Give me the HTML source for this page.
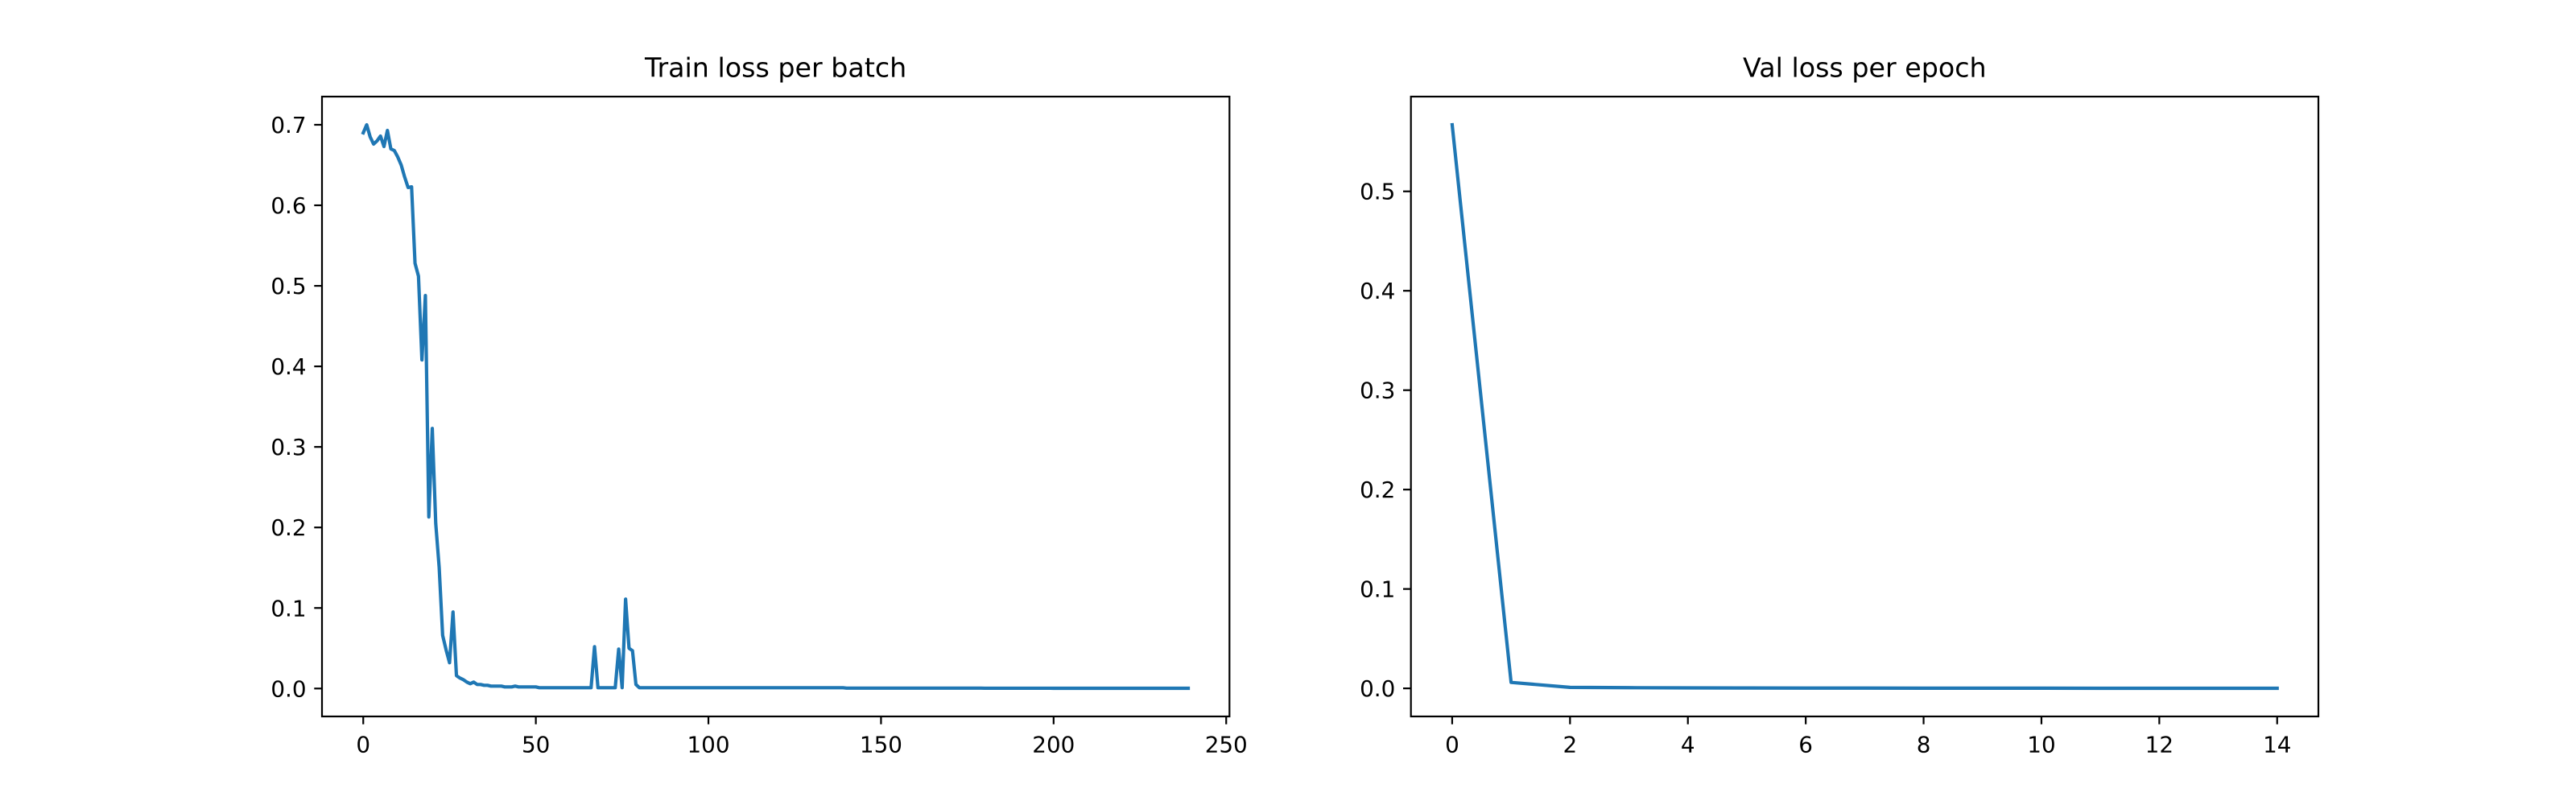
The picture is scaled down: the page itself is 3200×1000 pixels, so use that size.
<!DOCTYPE html>
<html><head><meta charset="utf-8"><style>
html,body{margin:0;padding:0;background:#fff;}
svg{display:block;}
text{font-family:"DejaVu Sans","Liberation Sans",sans-serif;fill:#000;}
</style></head><body>
<svg id="fig" width="3200" height="1000" viewBox="0 0 3200 1000" xmlns="http://www.w3.org/2000/svg"></svg>
<script>
const trainLoss = [
0.690,0.700,0.685,0.676,0.680,0.686,0.673,0.693,0.670,0.668,0.660,0.650,0.635,0.622,0.623,0.528,0.512,0.408,0.488,0.213,
0.323,0.205,0.150,0.066,0.048,0.032,0.095,0.016,0.013,0.011,0.008,0.006,0.008,0.005,0.005,0.004,0.004,0.003,0.003,0.003,
0.003,0.002,0.002,0.002,0.003,0.002,0.002,0.002,0.002,0.002,0.002,0.001,0.001,0.001,0.001,0.001,0.001,0.001,0.001,0.001,
0.001,0.001,0.001,0.001,0.001,0.001,0.001,0.052,0.001,0.001,0.001,0.001,0.001,0.001,0.049,0.001,0.111,0.050,0.047,0.005,
0.001,0.001,0.001,0.001,0.001,0.001,0.001,0.001,0.001,0.001,0.001,0.001,0.001,0.001,0.001,0.001,0.001,0.001,0.001,0.001,
0.001,0.001,0.001,0.001,0.001,0.001,0.001,0.001,0.001,0.001,0.001,0.001,0.001,0.001,0.001,0.001,0.001,0.001,0.001,0.001,
0.001,0.001,0.001,0.001,0.001,0.001,0.001,0.001,0.001,0.001,0.001,0.001,0.001,0.001,0.001,0.001,0.001,0.001,0.001,0.001,
0.0005,0.0005,0.0005,0.0005,0.0005,0.0005,0.0005,0.0005,0.0005,0.0005,0.0005,0.0005,0.0005,0.0005,0.0005,0.0005,0.0005,0.0005,0.0005,0.0005,
0.0005,0.0005,0.0005,0.0005,0.0005,0.0005,0.0005,0.0005,0.0005,0.0005,0.0005,0.0005,0.0005,0.0005,0.0005,0.0005,0.0005,0.0005,0.0005,0.0005,
0.0004,0.0004,0.0004,0.0004,0.0004,0.0004,0.0004,0.0004,0.0004,0.0004,0.0004,0.0004,0.0004,0.0004,0.0004,0.0004,0.0004,0.0004,0.0004,0.0004,
0.0003,0.0003,0.0003,0.0003,0.0003,0.0003,0.0003,0.0003,0.0003,0.0003,0.0003,0.0003,0.0003,0.0003,0.0003,0.0003,0.0003,0.0003,0.0003,0.0003,
0.0003,0.0003,0.0003,0.0003,0.0003,0.0003,0.0003,0.0003,0.0003,0.0003,0.0003,0.0003,0.0003,0.0003,0.0003,0.0003,0.0003,0.0003,0.0003,0.0003
];
const valLoss = [0.567,0.006,0.001,0.0007,0.0005,0.0004,0.0003,0.0003,0.0002,0.0002,0.0002,0.0001,0.0001,0.0001,0.0001];
const trainXTicks = [0,50,100,150,200,250];
const trainYTicks = [0.0,0.1,0.2,0.3,0.4,0.5,0.6,0.7];
const valXTicks = [0,2,4,6,8,10,12,14];
const valYTicks = [0.0,0.1,0.2,0.3,0.4,0.5];

const NS = "http://www.w3.org/2000/svg";
const svg = document.getElementById('fig');
function mk(tag, attrs, parent){
  const e = document.createElementNS(NS, tag);
  for (const k in attrs) e.setAttribute(k, attrs[k]);
  (parent||svg).appendChild(e);
  return e;
}
function lim(arr){
  let mn = Math.min(...arr), mx = Math.max(...arr);
  const m = (mx-mn)*0.05; return [mn-m, mx+m];
}
function drawPanel(name, title, ys, xt, yt, left, right, yfmt, xfmt){
  const top = 120, bottom = 890;
  const g = mk('g', {});
  
  
  const xs = ys.map((_, i) => i);
  const [x0, x1] = lim(xs), [y0, y1] = lim(ys);
  const X = v => left + (v - x0) / (x1 - x0) * (right - left);
  const Y = v => bottom - (v - y0) / (y1 - y0) * (bottom - top);
  const d = ys.map((v, i) => (i ? 'L' : 'M') + X(i).toFixed(2) + ' ' + Y(v).toFixed(2)).join(' ');
  const p = mk('path', {d: d, fill: 'none', stroke: '#1f77b4', 'stroke-width': 4.17, 'stroke-linejoin': 'round', 'stroke-linecap': 'square'}, g);
  
  
  const r = mk('rect', {x: left, y: top, width: right - left, height: bottom - top, fill: 'none', stroke: '#000', 'stroke-width': 2.2}, g);
  
  
  xt.forEach(t => {
    const x = X(t);
    mk('line', {x1: x, x2: x, y1: bottom, y2: bottom + 9.7, stroke: '#000', 'stroke-width': 2.2}, g);
    const tx = mk('text', {x: x, y: bottom + 19.4 + 25, 'text-anchor': 'middle', 'font-size': 27.8}, g);
    tx.textContent = xfmt(t);
    
    
  });
  yt.forEach(t => {
    const y = Y(t);
    mk('line', {x1: left - 9.7, x2: left, y1: y, y2: y, stroke: '#000', 'stroke-width': 2.2}, g);
    const tx = mk('text', {x: left - 19.4, y: y + 10, 'text-anchor': 'end', 'font-size': 27.8}, g);
    tx.textContent = yfmt(t);
    
    
  });
  const tt = mk('text', {x: (left + right) / 2, y: top - 16.7 - 8, 'text-anchor': 'middle', 'font-size': 33.3}, g);
  tt.textContent = title;
  
  
}
drawPanel('train', 'Train loss per batch', trainLoss, trainXTicks, trainYTicks, 400, 1527.3, v => v.toFixed(1), v => String(v));
drawPanel('val', 'Val loss per epoch', valLoss, valXTicks, valYTicks, 1752.7, 2880, v => v.toFixed(1), v => String(v));
</script>
</body></html>
